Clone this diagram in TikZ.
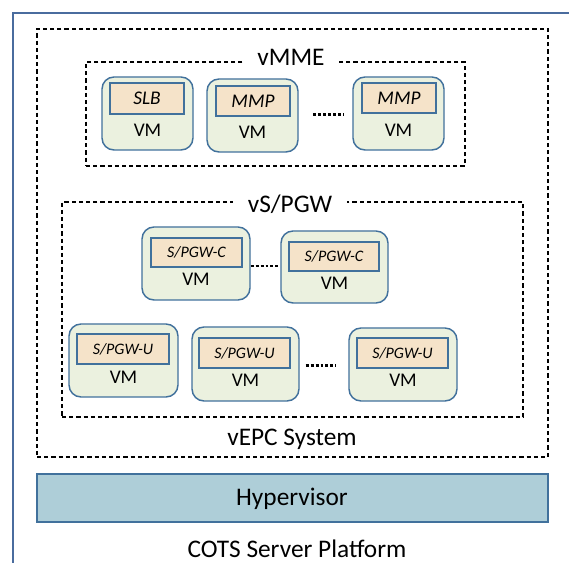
\documentclass[tikz,border=0pt]{standalone}
\usepackage{fontspec}
\setmainfont{Carlito}
\usetikzlibrary{fit}
\definecolor{frameblue}{HTML}{4A6C9E}
\definecolor{vmborder}{HTML}{41719C}
\definecolor{vmfill}{HTML}{EBF1DF}
\definecolor{infill}{HTML}{F5E3C9}
\definecolor{hypfill}{HTML}{AECED8}
\tikzset{
  container/.style={draw=black, line width=0.9pt, dash pattern=on 3.2pt off 2.2pt, inner sep=0pt},
  vmbox/.style={draw=vmborder, fill=vmfill, line width=1.1pt, rounded corners=9pt, inner sep=0pt},
  inbox/.style={draw=vmborder, fill=infill, line width=1.1pt, inner sep=0pt},
  bigtext/.style={font=\fontsize{19}{21}\selectfont, inner sep=0pt},
  vmtext/.style={font=\fontsize{14.5}{16}\selectfont, anchor=base, inner sep=0pt},
  mmetext/.style={font=\fontsize{14.5}{16}\selectfont\itshape, inner sep=0pt},
  gwtext/.style={font=\fontsize{12}{14}\selectfont\itshape, inner sep=0pt},
  dotline/.style={line width=2.2pt, dash pattern=on 2.2pt off 1.5pt, black},
  grouplabel/.style={bigtext, fill=white, inner xsep=11pt, inner ysep=2pt}
}
\begin{document}
\begin{tikzpicture}[x=0.75pt,y=-0.75pt]
\useasboundingbox (0,0) rectangle (569,563);
\clip (0,0) rectangle (569,563);
\fill[white] (0,0) rectangle (569,563);
% outer platform frame
\draw[frameblue, line width=1.5pt] (13,13) rectangle (640,640);
% containers
\node[container, fit={(37,29)(548,457)}] (vepc) {};
\node[container, fit={(86,62)(465,166)}] (vmme) {};
\node[container, fit={(62,202)(523,417)}] (vspgw) {};
\node[grouplabel] (vmmelab) at (291,57) {vMME};
\node[grouplabel] (vspgwlab) at (290,204) {vS/PGW};
\node[bigtext, anchor=base] (vepclab) at (292,445.5) {vEPC System};
% hypervisor
\node[draw=vmborder, fill=hypfill, line width=1.1pt, inner sep=0pt, fit={(37,474)(548,522)}] (hyp) {};
\node[bigtext, anchor=base] (hyplab) at (292,506) {Hypervisor};
\node[bigtext, anchor=base] (cots) at (297,558) {COTS Server Platform};
% vMME VMs
\node[vmbox, fit={(102,77)(193,150)}] (m1) {};
\node[inbox, fit={(110,83)(184,114)}] (m1i) {};
\node[mmetext] at (m1i.center) {SLB};
\node[vmtext] (m1t) at (147.5,137) {VM};
\node[vmbox, fit={(207,79)(298,152)}] (m2) {};
\node[inbox, fit={(216,86)(290,116)}] (m2i) {};
\node[mmetext] at (m2i.center) {MMP};
\node[vmtext] (m2t) at (252.5,139) {VM};
\node[vmbox, fit={(353,77)(444,150)}] (m3) {};
\node[inbox, fit={(362,83)(436,113)}] (m3i) {};
\node[mmetext] at (m3i.center) {MMP};
\node[vmtext] (m3t) at (398.5,137) {VM};
\draw[dotline, shorten <=11pt, shorten >=6pt] ([yshift=1pt]m2.east) -- ([yshift=1pt]m2.east -| m3.west);
% S/PGW-C VMs
\node[vmbox, fit={(142,227)(250,300)}] (c1) {};
\node[inbox, fit={(151,238)(242,267)}] (c1i) {};
\node[gwtext] at (c1i.center) {S/PGW-C};
\node[vmtext] (c1t) at (196,286) {VM};
\node[vmbox, fit={(281,231)(388,303)}] (c2) {};
\node[inbox, fit={(289,242)(379,271)}] (c2i) {};
\node[gwtext] at (c2i.center) {S/PGW-C};
\node[vmtext] (c2t) at (334.5,290) {VM};
\draw[dotline] ([yshift=-1.9pt]c1.east) -- ([yshift=-1.9pt]c1.east -| c2.west);
% S/PGW-U VMs
\node[vmbox, fit={(69,324)(178,397)}] (u1) {};
\node[inbox, fit={(77,334)(169,364)}] (u1i) {};
\node[gwtext] at (u1i.center) {S/PGW-U};
\node[vmtext] (u1t) at (123.5,384) {VM};
\node[vmbox, fit={(192,327)(299,401)}] (u2) {};
\node[inbox, fit={(199,338)(290,368)}] (u2i) {};
\node[gwtext] at (u2i.center) {S/PGW-U};
\node[vmtext] (u2t) at (245.5,387) {VM};
\node[vmbox, fit={(349,328)(457,401)}] (u3) {};
\node[inbox, fit={(357,338)(448,368)}] (u3i) {};
\node[gwtext] at (u3i.center) {S/PGW-U};
\node[vmtext] (u3t) at (403,387) {VM};
\draw[dotline, shorten <=4.5pt, shorten >=9pt] ([yshift=-1pt]u2.east) -- ([yshift=-1pt]u2.east -| u3.west);
\end{tikzpicture}
\end{document}
